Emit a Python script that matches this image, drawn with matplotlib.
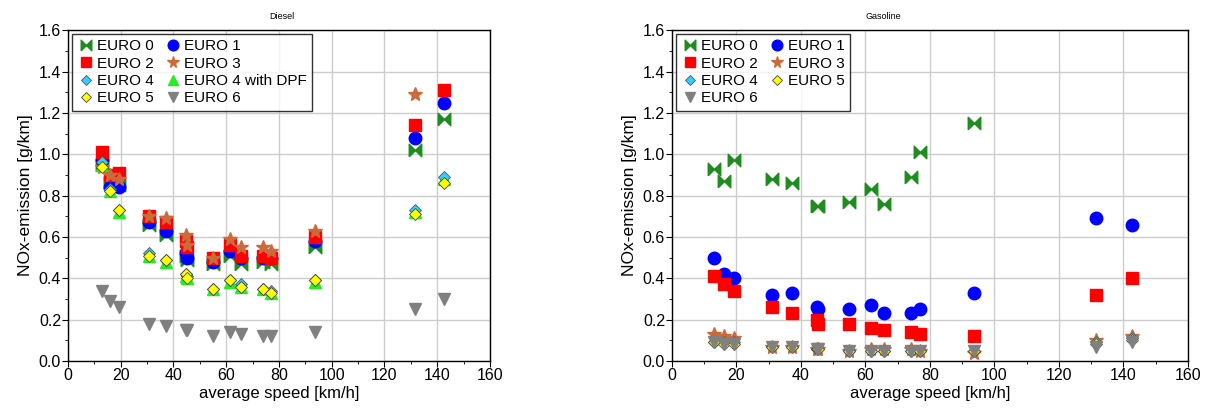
import numpy as np
import matplotlib
matplotlib.use("Agg")
import matplotlib.pyplot as plt
from matplotlib.path import Path
from matplotlib.ticker import MultipleLocator

plt.rcParams['font.family'] = ['Liberation Sans', 'DejaVu Sans']

nan = np.nan

# average speed of the driving cycles [km/h]
speeds = [12.9, 16.0, 19.2, 30.9, 37.1, 44.9, 45.3, 55.0, 61.6, 65.6, 74.1, 77.0, 93.7, 131.6, 142.6]

# Diesel NOx [g/km]
d_euro0 = [0.95, 0.86, 0.85, 0.66, 0.61, 0.51, 0.49, 0.47, 0.51, 0.47, 0.48, 0.47, 0.55, 1.02, 1.17]
d_euro1 = [0.97, 0.84, 0.84, 0.67, 0.63, 0.52, 0.50, 0.48, 0.53, 0.50, 0.50, 0.50, 0.58, 1.08, 1.25]
d_euro2 = [1.01, 0.90, 0.91, 0.70, 0.67, 0.58, 0.55, 0.50, 0.56, 0.51, 0.51, 0.50, 0.60, 1.14, 1.31]
d_euro3 = [0.94, 0.90, 0.88, 0.70, 0.69, 0.61, 0.56, 0.50, 0.59, 0.55, 0.55, 0.53, 0.63, 1.29, nan]
d_euro4 = [0.96, 0.83, 0.73, 0.52, 0.49, 0.42, 0.41, 0.35, 0.39, 0.37, 0.35, 0.34, 0.39, 0.73, 0.89]
d_euro4_dpf = [0.95, 0.82, 0.72, 0.51, 0.48, 0.41, 0.40, 0.35, 0.38, 0.36, 0.35, 0.33, 0.38, 0.72, 0.88]
d_euro5 = [0.94, 0.82, 0.73, 0.51, 0.49, 0.42, 0.40, 0.35, 0.39, 0.36, 0.35, 0.33, 0.39, 0.71, 0.86]
d_euro6 = [0.34, 0.29, 0.26, 0.18, 0.17, 0.15, 0.15, 0.12, 0.14, 0.13, 0.12, 0.12, 0.14, 0.25, 0.30]

# Gasoline NOx [g/km]
g_euro0 = [0.93, 0.87, 0.97, 0.88, 0.86, 0.75, 0.75, 0.77, 0.83, 0.76, 0.89, 1.01, 1.15, nan, nan]
g_euro1 = [0.50, 0.42, 0.40, 0.32, 0.33, 0.26, 0.25, 0.25, 0.27, 0.23, 0.23, 0.25, 0.33, 0.69, 0.66]
g_euro2 = [0.41, 0.37, 0.34, 0.26, 0.23, 0.20, 0.18, 0.18, 0.16, 0.15, 0.14, 0.13, 0.12, 0.32, 0.40]
g_euro3 = [0.13, 0.12, 0.11, 0.07, 0.07, 0.06, 0.06, 0.05, 0.06, 0.06, 0.06, 0.05, 0.04, 0.10, 0.12]
g_euro4 = [0.09, 0.09, 0.09, 0.07, 0.07, 0.06, 0.06, 0.05, 0.05, 0.05, 0.05, 0.05, 0.05, 0.09, 0.11]
g_euro5 = [0.09, 0.08, 0.08, 0.07, 0.07, 0.06, 0.06, 0.05, 0.05, 0.05, 0.05, 0.05, 0.05, 0.08, 0.10]
g_euro6 = [0.09, 0.08, 0.08, 0.07, 0.07, 0.06, 0.06, 0.05, 0.05, 0.05, 0.05, 0.05, 0.05, 0.07, 0.09]

# bowtie marker: two triangles pointing at each other
bowtie = Path([(-1, -1), (-1, 1), (0, 0), (1, 1), (1, -1), (0, 0), (-1, -1)])

styles = {
    'EURO 0': dict(marker=bowtie, color='#1e8c1e', ms=9, mec='#1e8c1e'),
    'EURO 1': dict(marker='o', color='#0000ff', ms=9, mec='#0000ff'),
    'EURO 2': dict(marker='s', color='#ff0000', ms=8.5, mec='#ff0000'),
    'EURO 3': dict(marker='*', color='#cc6a3c', ms=10, mec='#cc6a3c'),
    'EURO 4 with DPF': dict(marker='^', color='#22ee22', ms=8.5, mec='#22ee22'),
    'EURO 4': dict(marker='D', color='#33ccff', ms=6.5, mec='#555555', mew=0.6),
    'EURO 5': dict(marker='D', color='#ffff00', ms=6.5, mec='#444444', mew=0.6),
    'EURO 6': dict(marker='v', color='#808080', ms=9, mec='#808080'),
}


def draw(ax, series, order, title, title_x):
    handles = {}
    for name, vals in series:
        st = dict(styles[name])
        col = st.pop('color')
        h, = ax.plot(speeds, vals, ls='none', mfc=col, label=name, **st)
        handles[name] = h
    ax.set_xlim(0, 160)
    ax.set_ylim(0, 1.6)
    ax.xaxis.set_major_locator(MultipleLocator(20))
    ax.xaxis.set_minor_locator(MultipleLocator(10))
    ax.yaxis.set_major_locator(MultipleLocator(0.2))
    ax.yaxis.set_minor_locator(MultipleLocator(0.1))
    ax.yaxis.set_major_formatter(lambda v, p: '%.1f' % v)
    ax.grid(which='major', color='#cccccc', lw=1)
    ax.set_axisbelow(True)
    ax.tick_params(labelsize=11.5, direction='out', length=4, pad=1)
    ax.tick_params(which='minor', length=2.5)
    ax.set_xlabel('average speed [km/h]', fontsize=12, labelpad=2)
    ax.set_ylabel('NOx-emission [g/km]', fontsize=12.5, labelpad=4)
    for s in ax.spines.values():
        s.set_linewidth(1.0)
    leg = ax.legend([handles[n] for n in order], order, ncol=2, loc='upper left',
                    fontsize=11, frameon=True, fancybox=False, edgecolor='black',
                    borderaxespad=0.25, handletextpad=0.2, columnspacing=0.7,
                    labelspacing=0.22, handlelength=1.1, borderpad=0.35,
                    markerscale=0.85)
    leg.get_frame().set_linewidth(1.0)
    fig.text(title_x, 0.955, title, fontsize=6.5, ha='center')


fig = plt.figure(figsize=(12.09, 4.12), dpi=100)
ax1 = fig.add_axes([0.0562, 0.1238, 0.349, 0.803])
ax2 = fig.add_axes([0.5558, 0.1238, 0.4268, 0.803])

draw(ax1, [('EURO 0', d_euro0), ('EURO 1', d_euro1), ('EURO 2', d_euro2),
           ('EURO 3', d_euro3), ('EURO 4 with DPF', d_euro4_dpf), ('EURO 4', d_euro4),
           ('EURO 5', d_euro5), ('EURO 6', d_euro6)],
     ['EURO 0', 'EURO 2', 'EURO 4', 'EURO 5', 'EURO 1', 'EURO 3', 'EURO 4 with DPF', 'EURO 6'],
     'Diesel', 282 / 1209)

draw(ax2, [('EURO 0', g_euro0), ('EURO 1', g_euro1), ('EURO 2', g_euro2),
           ('EURO 3', g_euro3), ('EURO 4', g_euro4), ('EURO 5', g_euro5),
           ('EURO 6', g_euro6)],
     ['EURO 0', 'EURO 2', 'EURO 4', 'EURO 6', 'EURO 1', 'EURO 3', 'EURO 5'],
     'Gasoline', 883 / 1209)

fig.savefig('out.png', dpi=100)
